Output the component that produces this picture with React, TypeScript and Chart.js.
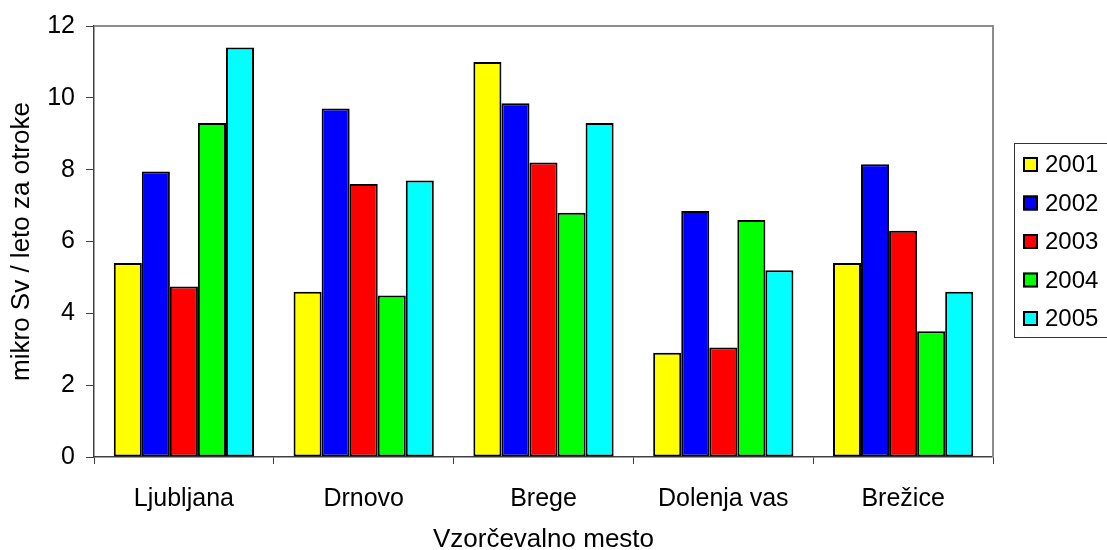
import React, { useEffect, useRef } from "react";
import { Chart, registerables } from "chart.js";

Chart.register(...registerables);

const categories = ["Ljubljana", "Drnovo", "Brege", "Dolenja vas", "Brežice"];
const years = ["2001", "2002", "2003", "2004", "2005"];
const values2001 = [5.4, 4.6, 11.0, 2.9, 5.4];
const values2002 = [7.95, 9.7, 9.85, 6.85, 8.15];
const values2003 = [4.75, 7.6, 8.2, 3.05, 6.3];
const values2004 = [9.3, 4.5, 6.8, 6.6, 3.5];
const values2005 = [11.4, 7.7, 9.3, 5.2, 4.6];
const seriesColors = ["#FFFF00", "#0000FF", "#FF0000", "#00FF00", "#00FFFF"];
const yTitle = "mikro Sv / leto za otroke";
const xTitle = "Vzorčevalno mesto";

const FONT = "'Liberation Sans', Arial, sans-serif";

const plotBorder = {
  id: "plotBorder",
  beforeDatasetsDraw(chart: any) {
    const { ctx, chartArea } = chart;
    ctx.save();
    ctx.strokeStyle = "#8c8c8c";
    ctx.lineWidth = 2;
    ctx.beginPath();
    ctx.moveTo(chartArea.left, chartArea.top);
    ctx.lineTo(chartArea.right, chartArea.top);
    ctx.lineTo(chartArea.right, chartArea.bottom);
    ctx.stroke();
    ctx.restore();
  },
};

const boxLegend = {
  id: "boxLegend",
  afterDraw(chart: any) {
    const { ctx } = chart;
    const ds = chart.data.datasets;
    const left = 1014.5;
    const top = 143.5;
    const bottom = 337.5;
    ctx.save();
    ctx.strokeStyle = "#333";
    ctx.lineWidth = 1;
    ctx.strokeRect(left, top, 200, bottom - top);
    ctx.font = `24px ${FONT}`;
    ctx.textBaseline = "middle";
    ctx.textAlign = "left";
    ds.forEach((d: any, i: number) => {
      const cy = 164.5 + i * 38.5;
      ctx.fillStyle = d.backgroundColor;
      ctx.fillRect(1023, cy - 7.5, 15, 15);
      ctx.strokeStyle = "#000";
      ctx.lineWidth = 2;
      ctx.strokeRect(1024, cy - 6.5, 13, 13);
      ctx.fillStyle = "#000";
      ctx.fillText(d.label, 1045, cy + 1);
    });
    ctx.restore();
  },
};

export default function App() {
  const ref = useRef<HTMLCanvasElement>(null);
  useEffect(() => {
    if (!ref.current) return;
    const seriesValues = [values2001, values2002, values2003, values2004, values2005];
    const chart = new Chart(ref.current, {
      type: "bar",
      data: {
        labels: categories,
        datasets: years.map((y, i) => ({
          label: y,
          data: seriesValues[i],
          backgroundColor: seriesColors[i],
          borderColor: "#000",
          borderWidth: 2,
          borderSkipped: false,
          categoryPercentage: 0.78,
          barPercentage: 1,
        })),
      },
      options: {
        responsive: false,
        animation: false,
        layout: { padding: { top: 24, right: 114, left: 0, bottom: 0 } },
        plugins: {
          legend: { display: false },
          tooltip: { enabled: false },
        },
        scales: {
          x: {
            offset: true,
            grid: {
              offset: true,
              drawOnChartArea: false,
              drawTicks: true,
              tickLength: 7,
              tickColor: "#404040",
              lineWidth: 1,
            },
            border: { color: "#404040", width: 1.5 },
            ticks: {
              color: "#000",
              font: { family: FONT, size: 25 },
              padding: 20,
              maxRotation: 0,
            },
            title: {
              display: true,
              text: xTitle,
              color: "#000",
              font: { family: FONT, size: 26, lineHeight: 0.8 },
              padding: { top: 0, bottom: 0 },
            },
            afterFit(scale: any) {
              scale.height = 93;
            },
          },
          y: {
            min: 0,
            max: 12,
            ticks: {
              stepSize: 2,
              color: "#000",
              font: { family: FONT, size: 25 },
              padding: 11,
            },
            grid: {
              drawOnChartArea: false,
              drawTicks: true,
              tickLength: 8,
              tickColor: "#404040",
            },
            border: { color: "#404040", width: 1.5 },
            title: {
              display: true,
              text: yTitle,
              color: "#000",
              font: { family: FONT, size: 26, lineHeight: 1.2 },
              padding: { top: 6, bottom: 0 },
            },
            afterFit(scale: any) {
              scale.width = 94;
            },
          },
        },
      },
      plugins: [plotBorder, boxLegend],
    });
    return () => chart.destroy();
  }, []);
  return (
    <div style={{ position: "absolute", left: 0, top: 0, width: 1107, height: 550, background: "#fff" }}>
      <canvas ref={ref} width={1107} height={550} style={{ width: 1107, height: 550 }} />
    </div>
  );
}
